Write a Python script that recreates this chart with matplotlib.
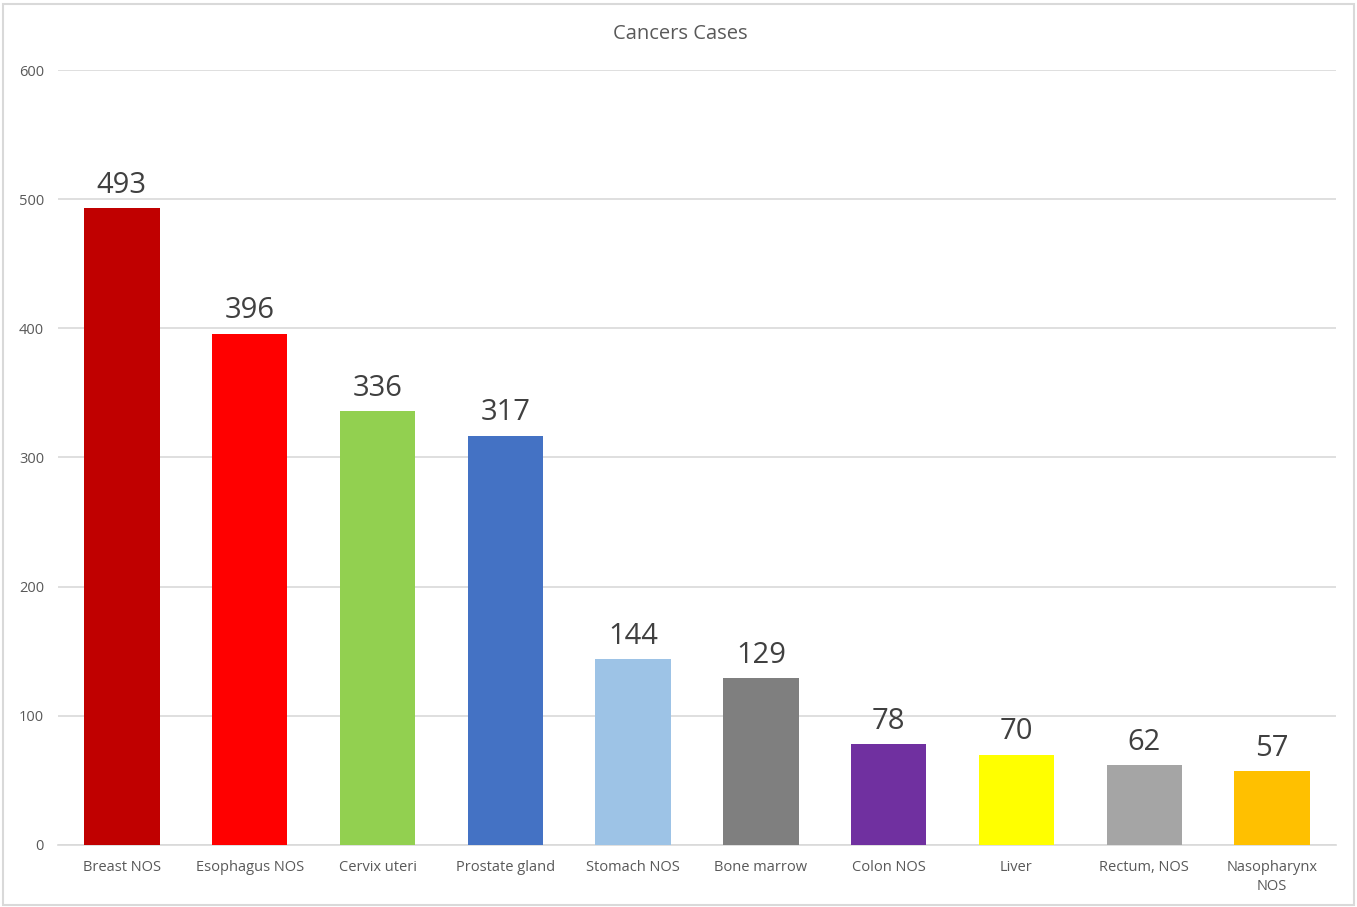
import matplotlib.pyplot as plt
from matplotlib.patches import Rectangle

sites = ['Breast NOS', 'Esophagus NOS', 'Cervix uteri', 'Prostate gland', 'Stomach NOS',
         'Bone marrow', 'Colon NOS', 'Liver', 'Rectum, NOS', 'Nasopharynx\nNOS']
cases = [493, 396, 336, 317, 144, 129, 78, 70, 62, 57]
bar_colors = ['#C00000', '#FF0000', '#92D050', '#4472C4', '#9DC3E6',
              '#7F7F7F', '#7030A0', '#FFFF00', '#A5A5A5', '#FFC000']

plt.rcParams['font.family'] = ['Open Sans', 'DejaVu Sans']

fig = plt.figure(figsize=(13.57, 9.07), dpi=100)
ax = fig.add_axes([0.0427, 0.0684, 0.9418, 0.8544])

x = range(len(sites))
bars = ax.bar(x, cases, width=0.59, color=bar_colors, zorder=3)

for b, v in zip(bars, cases):
    ax.annotate(str(v), (b.get_x() + b.get_width() / 2, v), xytext=(0, 6),
                textcoords='offset points', ha='center', va='bottom',
                fontsize=21, color='#404040')

ax.set_xlim(-0.5, len(sites) - 0.5)
ax.set_ylim(0, 600)
ax.set_yticks(range(0, 601, 100))
ax.set_xticks(list(x))
ax.set_xticklabels(sites, fontsize=10.5, color='#595959', linespacing=1.35)
ax.tick_params(axis='y', labelsize=10.5, labelcolor='#595959', length=0, pad=10)
ax.tick_params(axis='x', length=0, pad=11)
ax.grid(axis='y', color='#D9D9D9', linewidth=1.2, zorder=0)
for s in ['top', 'right', 'left']:
    ax.spines[s].set_visible(False)
ax.spines['bottom'].set_color('#D9D9D9')
ax.spines['bottom'].set_linewidth(1.2)

fig.text(0.501, 0.962, 'Cancers Cases', ha='center', va='center', fontsize=14.5, color='#595959')

fig.patches.append(Rectangle((0.002, 0.002), 0.996, 0.994, transform=fig.transFigure,
                             fill=False, edgecolor='#D9D9D9', linewidth=1.5))

fig.savefig('out.png', dpi=100)
